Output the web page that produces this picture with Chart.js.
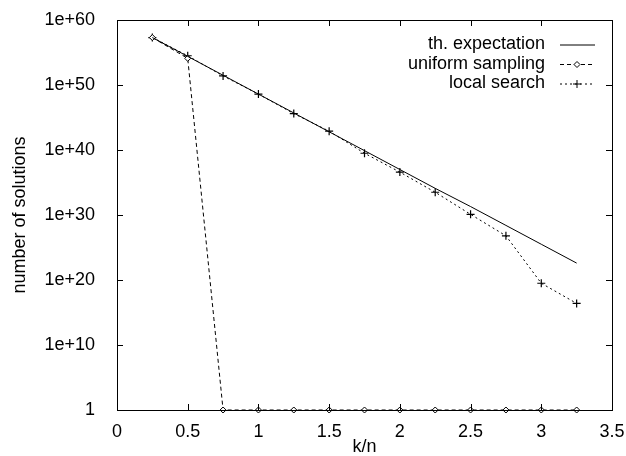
<!DOCTYPE html>
<html>
<head>
<meta charset="utf-8">
<script src="https://cdn.jsdelivr.net/npm/chart.js@4.4.1/dist/chart.umd.min.js"></script>
<style>
  html, body { margin: 0; padding: 0; background: #fff; }
  #wrap { width: 626px; height: 456px; }
</style>
</head>
<body>
<div id="wrap"><canvas id="myChart" width="626" height="456"></canvas></div>
<script>
// k/n values
const kn = [0.25, 0.5, 0.75, 1, 1.25, 1.5, 1.75, 2, 2.25, 2.5, 2.75, 3, 3.25];
// log10 of number of solutions
const theoryExp = [57.3, 54.4, 51.5, 48.6, 45.7, 42.8, 39.9, 37.0, 34.1, 31.3, 28.4, 25.5, 22.6];
const uniformExp = [57.3, 54.1, 0, 0, 0, 0, 0, 0, 0, 0, 0, 0, 0];
const localExp = [57.3, 54.5, 51.4, 48.6, 45.6, 42.9, 39.5, 36.6, 33.5, 30.1, 26.8, 19.5, 16.4];
const yTickExp = [0, 10, 20, 30, 40, 50, 60];
const xTicks = [0, 0.5, 1, 1.5, 2, 2.5, 3, 3.5];
const seriesNames = ['th. expectation', 'uniform sampling', 'local search'];

const FONT = 'Liberation Sans, Arial, Helvetica, sans-serif';
const toPoints = exps => kn.map((k, i) => ({ x: k, y: Math.pow(10, exps[i]) }));

// рамка, внутренние засечки и легенда в стиле gnuplot
const gnuplotFrame = {
  id: 'gnuplotFrame',
  afterDraw(chart) {
    const { ctx, chartArea: a, scales } = chart;
    ctx.save();
    ctx.strokeStyle = '#000';
    ctx.lineWidth = 1;
    ctx.setLineDash([]);
    ctx.strokeRect(a.left + 0.5, a.top + 0.5, a.right - a.left, a.bottom - a.top);
    const len = 6;
    ctx.beginPath();
    xTicks.forEach(v => {
      const px = Math.round(scales.x.getPixelForValue(v)) + 0.5;
      ctx.moveTo(px, a.bottom); ctx.lineTo(px, a.bottom - len);
      ctx.moveTo(px, a.top); ctx.lineTo(px, a.top + len);
    });
    yTickExp.forEach(e => {
      const py = Math.round(scales.y.getPixelForValue(Math.pow(10, e))) + 0.5;
      ctx.moveTo(a.left, py); ctx.lineTo(a.left + len, py);
      ctx.moveTo(a.right, py); ctx.lineTo(a.right - len, py);
    });
    ctx.stroke();

    // легенда
    ctx.font = '18px ' + FONT;
    ctx.fillStyle = '#000';
    ctx.textAlign = 'right';
    ctx.textBaseline = 'middle';
    const rows = [44.5, 64, 83.5];
    chart.data.datasets.forEach((ds, i) => {
      const y = rows[i];
      ctx.fillText(seriesNames[i], 545, y);
      ctx.beginPath();
      ctx.setLineDash(ds.borderDash || []);
      ctx.moveTo(560, y + 0.5); ctx.lineTo(595, y + 0.5);
      ctx.stroke();
      ctx.setLineDash([]);
      const cx = 577, cy = y + 0.5;
      if (ds.pointStyle === 'rectRot') {
        ctx.beginPath();
        ctx.moveTo(cx, cy - 3); ctx.lineTo(cx + 3, cy); ctx.lineTo(cx, cy + 3); ctx.lineTo(cx - 3, cy); ctx.closePath();
        ctx.fillStyle = '#fff'; ctx.fill(); ctx.stroke(); ctx.fillStyle = '#000';
      } else if (ds.pointStyle === 'cross') {
        ctx.beginPath();
        ctx.moveTo(cx - 4, cy); ctx.lineTo(cx + 4, cy);
        ctx.moveTo(cx, cy - 4); ctx.lineTo(cx, cy + 4);
        ctx.stroke();
      }
    });
    ctx.restore();
  }
};

new Chart(document.getElementById('myChart').getContext('2d'), {
  type: 'line',
  data: {
    datasets: [
      {
        label: seriesNames[0],
        data: toPoints(theoryExp),
        borderColor: '#000',
        borderWidth: 1,
        pointRadius: 0,
        fill: false,
        tension: 0,
        clip: 10
      },
      {
        label: seriesNames[1],
        data: toPoints(uniformExp),
        borderColor: '#000',
        borderWidth: 1,
        borderDash: [4, 3],
        pointStyle: 'rectRot',
        pointRadius: 3,
        pointBackgroundColor: '#fff',
        pointBorderColor: '#000',
        pointBorderWidth: 1,
        fill: false,
        tension: 0,
        clip: 10
      },
      {
        label: seriesNames[2],
        data: toPoints(localExp),
        borderColor: '#000',
        borderWidth: 1,
        borderDash: [2, 3],
        pointStyle: 'cross',
        pointRadius: 4,
        pointBorderColor: '#000',
        pointBorderWidth: 1.2,
        fill: false,
        tension: 0,
        clip: 10
      }
    ]
  },
  options: {
    responsive: false,
    animation: false,
    layout: { padding: { left: 0, right: 14, top: 20, bottom: 0 } },
    plugins: { legend: { display: false }, tooltip: { enabled: false } },
    scales: {
      x: {
        type: 'linear',
        min: 0,
        max: 3.5,
        grid: { display: false },
        border: { display: false },
        afterBuildTicks: s => { s.ticks = xTicks.map(v => ({ value: v })); },
        afterFit: s => { s.height = 46; s.paddingLeft = 0; s.paddingRight = 0; },
        ticks: {
          color: '#000',
          font: { family: FONT, size: 18 },
          padding: 3,
          maxRotation: 0,
          callback: v => String(v)
        },
        title: {
          display: true,
          text: 'k/n',
          color: '#000',
          font: { family: FONT, size: 18, lineHeight: 1 },
          padding: { top: 0, bottom: 0 }
        }
      },
      y: {
        type: 'logarithmic',
        min: 1,
        max: 1e60,
        grid: { display: false },
        border: { display: false },
        afterBuildTicks: s => { s.ticks = yTickExp.map(e => ({ value: Math.pow(10, e) })); },
        afterFit: s => { s.width = 117; s.paddingTop = 0; s.paddingBottom = 0; },
        ticks: {
          color: '#000',
          font: { family: FONT, size: 18 },
          padding: 14,
          callback: v => {
            const e = Math.round(Math.log10(v));
            return e === 0 ? '1' : '1e+' + e;
          }
        },
        title: {
          display: true,
          text: 'number of solutions',
          color: '#000',
          font: { family: FONT, size: 18, lineHeight: 1 },
          padding: { top: 11, bottom: 0 }
        }
      }
    }
  },
  plugins: [gnuplotFrame]
});
</script>
</body>
</html>
